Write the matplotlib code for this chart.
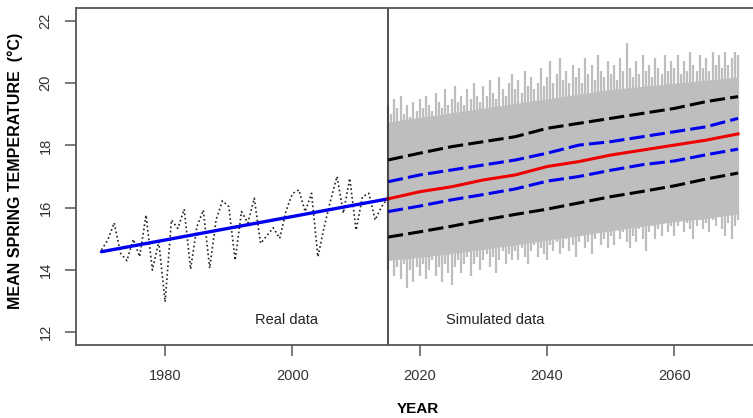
import numpy as np
import matplotlib.pyplot as plt

plt.rcParams['font.family'] = ['Liberation Sans', 'DejaVu Sans']

# observed spring temperatures 1970-2015
real_years = np.arange(1970, 2016)
real_temp = [14.64, 14.96, 15.51, 14.53, 14.29, 14.98, 14.42, 15.76, 13.99, 14.90,
             12.97, 15.60, 15.33, 15.95, 14.02, 15.39, 15.92, 14.05, 15.60, 16.22,
             16.03, 14.31, 15.87, 15.50, 16.30, 14.85, 15.10, 15.35, 15.01, 15.90,
             16.45, 16.57, 15.87, 16.46, 14.42, 15.39, 16.24, 17.00, 15.82, 16.94,
             15.28, 16.35, 16.46, 15.60, 16.03, 16.30]

# linear trend of the observed series
trend_years = [1970, 2015]
trend_temp = [14.58, 16.28]

# simulated period: summary lines every 5 years
sim_years = np.arange(2015, 2071, 5)
upper_outer = [17.53, 17.75, 17.96, 18.12, 18.28, 18.55, 18.71, 18.87, 19.03, 19.19, 19.41, 19.57]
upper_inner = [16.83, 17.05, 17.21, 17.37, 17.53, 17.75, 18.01, 18.12, 18.28, 18.44, 18.60, 18.87]
median_sim = [16.28, 16.51, 16.67, 16.89, 17.05, 17.32, 17.48, 17.69, 17.85, 18.01, 18.17, 18.37]
lower_inner = [15.87, 16.05, 16.25, 16.42, 16.60, 16.85, 17.00, 17.20, 17.38, 17.50, 17.70, 17.88]
lower_outer = [15.05, 15.22, 15.40, 15.60, 15.78, 15.95, 16.15, 16.35, 16.52, 16.70, 16.92, 17.11]

# dense part of the cloud of simulations
core_hi = [18.75, 18.90, 19.05, 19.20, 19.35, 19.50, 19.65, 19.80, 19.90, 20.00, 20.10, 20.20]
core_lo = [14.30, 14.40, 14.52, 14.66, 14.80, 14.95, 15.10, 15.25, 15.40, 15.55, 15.65, 15.80]

# extremes of the simulations, every half year
spike_x = np.arange(2015, 2070.01, 0.5)
spike_hi = [19.3, 19.0, 19.5, 19.2, 19.6, 19.0, 19.3, 18.9, 19.4, 19.1,
            19.5, 19.2, 19.6, 19.3, 19.1, 19.7, 19.4, 19.2, 19.8, 19.3,
            19.5, 19.9, 19.4, 19.6, 19.3, 19.8, 19.5, 20.0, 19.6, 19.4,
            19.9, 19.6, 20.1, 19.7, 19.5, 20.2, 19.8, 19.6, 20.0, 20.3,
            19.8, 20.1, 19.7, 20.4, 19.9, 20.2, 19.8, 20.0, 20.5, 19.9,
            20.2, 20.7, 20.0, 20.3, 20.8, 20.1, 20.4, 20.0, 20.6, 20.2,
            20.5, 20.0, 20.8, 20.3, 20.6, 20.1, 20.9, 20.4, 20.2, 20.7,
            20.3, 20.6, 20.1, 20.8, 20.4, 21.3, 20.5, 20.2, 20.7, 20.3,
            20.9, 20.4, 20.6, 20.2, 20.8, 20.5, 20.3, 20.9, 20.4, 20.7,
            20.5, 20.9, 20.3, 20.7, 20.4, 21.0, 20.6, 20.4, 20.9, 20.5,
            20.8, 20.4, 21.0, 20.6, 20.9, 20.5, 21.0, 20.6, 20.8, 21.0,
            20.9]
spike_lo = [14.0, 14.3, 13.8, 14.1, 13.7, 14.2, 13.4, 14.0, 13.6, 14.1,
            13.8, 14.2, 13.7, 14.0, 14.3, 13.8, 14.1, 13.6, 14.2, 13.9,
            13.5, 14.1, 14.3, 13.9, 14.2, 14.4, 13.8, 14.2, 14.4, 14.0,
            14.3, 14.5, 14.1, 14.4, 13.9, 14.3, 14.6, 14.2, 14.5, 14.3,
            14.6, 14.3, 14.7, 14.4, 14.2, 14.6, 14.8, 14.4, 14.7, 14.5,
            14.3, 14.8, 14.6, 14.9, 14.5, 14.7, 15.0, 14.6, 14.8, 14.4,
            14.9, 15.1, 14.7, 14.9, 14.5, 15.0, 15.2, 14.8, 15.0, 14.7,
            15.1, 14.8, 15.3, 15.0, 15.2, 14.9, 14.7, 15.1, 14.9, 15.3,
            15.0, 14.6, 15.2, 15.4, 15.0, 15.3, 15.1, 15.5, 15.2, 15.4,
            15.1, 15.4, 15.6, 15.2, 15.5, 15.3, 15.0, 15.4, 15.6, 15.3,
            15.5, 15.2, 15.6, 15.4, 15.7, 15.3, 15.1, 15.5, 15.0, 15.4,
            15.6]

fig = plt.figure(figsize=(7.53, 4.18), dpi=100)
ax = fig.add_axes([76 / 753, 1 - 345 / 418, (763.5 - 76) / 753, (345 - 8) / 418])

gray = '#bebebe'
ax.fill_between(sim_years, core_lo, core_hi, color=gray, lw=0)
ax.vlines(spike_x, spike_lo, spike_hi, color=gray, lw=1.6)

ax.plot(real_years, real_temp, color='#222222', lw=1.2, ls=(0, (1, 1.6)))
ax.plot(trend_years, trend_temp, color='#0000ee', lw=2.4, solid_capstyle='round')

dash = (0, (5, 1.7))
ax.plot(sim_years, upper_outer, color='black', lw=2.2, ls=dash)
ax.plot(sim_years, lower_outer, color='black', lw=2.2, ls=dash)
ax.plot(sim_years, upper_inner, color='#0000ee', lw=2.2, ls=dash)
ax.plot(sim_years, lower_inner, color='#0000ee', lw=2.2, ls=dash)
ax.plot(sim_years, median_sim, color='#ee0000', lw=2.2)

ax.axvline(2015, color='#222222', lw=1.1)

ax.text(1999, 12.4, 'Real data', ha='center', va='center', fontsize=10.5, color='#222222')
ax.text(2031.8, 12.4, 'Simulated data', ha='center', va='center', fontsize=10.5, color='#222222')

ax.set_xlim(1966, 2074)
ax.set_ylim(11.58, 22.42)
ax.set_xticks([1980, 2000, 2020, 2040, 2060])
ax.set_yticks([12, 14, 16, 18, 20, 22])
ax.tick_params(axis='both', length=8, width=1.1, color='#555555', labelcolor='#333333',
               labelsize=10.5, pad=9)
for lab in ax.get_yticklabels():
    lab.set_rotation(90)
    lab.set_va('center')
for sp in ax.spines.values():
    sp.set_color('#555555')
    sp.set_linewidth(1.3)

fig.text(418 / 753, 1 - 409 / 418, 'YEAR', ha='center', va='center',
         fontsize=11, fontweight='bold')
fig.text(15 / 753, 1 - 171 / 418, 'MEAN SPRING TEMPERATURE  (\u00b0C)', ha='center',
         va='center', rotation=90, fontsize=11.5, fontweight='bold')

plt.savefig('out.png', dpi=100)
plt.close()
